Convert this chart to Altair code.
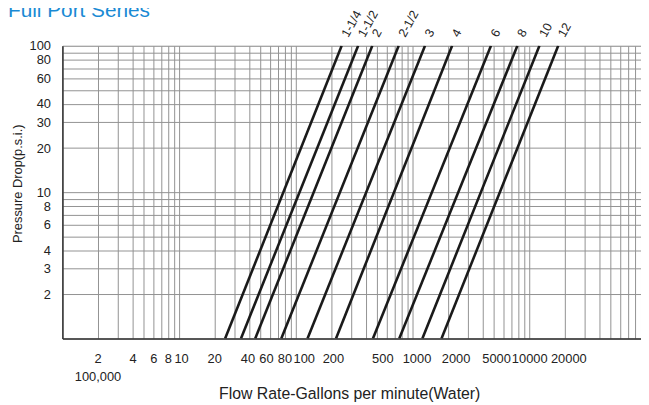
import json
import altair as alt
import pandas as pd

# ---- data ----
pipe_sizes = ["1-1/4", "1-1/2", "2", "2-1/2", "3", "4", "6", "8", "10", "12"]
flow_at_1psi = [24.8, 33.9, 44.9, 75.1, 126, 221, 458, 770, 1215, 1772]
flow_at_100psi = [247, 342, 452, 761, 1279, 2183, 4699, 7913, 12228, 17716]
psi_bottom = 1
psi_top = 100

x_label_values = [2, 4, 6, 8, 10, 20, 40, 60, 80, 100, 200, 500, 1000, 2000, 5000, 10000, 20000]
x_label_texts = ["2", "4", "6", "8", "10", "20", "40", "60", "80", "100", "200", "500",
                 "1000", "2000", "5000", "10000", "20000"]
x_second_line = "100,000"   # printed under the "2"
y_label_values = [2, 3, 4, 6, 8, 10, 20, 30, 40, 60, 80, 100]
y_label_texts = ["2", "3", "4", "6", "8", "10", "20", "30", "40", "60", "80", "100"]

x_domain = [1, 100000]
y_domain = [1, 100]

# log grid (1..9 per decade)
x_grid = [m * 10 ** k for k in range(5) for m in range(1, 10)]
y_grid = [m * 10 ** k for k in range(2) for m in range(1, 10)] + [100]

rows = []
for s, lo, hi in zip(pipe_sizes, flow_at_1psi, flow_at_100psi):
    rows.append({"size": s, "flow": lo, "psi": psi_bottom})
    rows.append({"size": s, "flow": hi, "psi": psi_top})
lines_df = pd.DataFrame(rows)
labels_df = pd.DataFrame({"size": pipe_sizes, "flow": flow_at_100psi,
                          "psi": [psi_top] * len(pipe_sizes)})

# ---- styles ----
FONT = "Liberation Sans"
INK = "#222222"
GRID = "#929292"

# horizontal nudges (px) of some x labels, as printed
x_nudge = {10: 2, 40: -2, 60: -4, 100: 8, 200: 2, 500: 5, 1000: 4, 2000: 8, 5000: 2, 20000: 4}

xv = json.dumps(x_label_values)
xt = json.dumps(x_label_texts)
x_label_expr = (
    f"indexof({xv}, datum.value) < 0 ? '' : "
    f"(datum.value == {x_label_values[0]} ? [{xt}[indexof({xv}, datum.value)], '{x_second_line}'] "
    f": {xt}[indexof({xv}, datum.value)])"
)
yv = json.dumps(y_label_values)
yt = json.dumps(y_label_texts)
y_label_expr = f"indexof({yv}, datum.value) < 0 ? '' : {yt}[indexof({yv}, datum.value)]"

x_offset_cond = {
    "condition": [{"test": f"datum.value == {k}", "value": v} for k, v in x_nudge.items()],
    "value": 0,
}

x_enc = alt.X(
    "flow:Q",
    scale=alt.Scale(type="log", domain=x_domain, nice=False),
    axis=alt.Axis(
        values=x_grid, labelExpr=x_label_expr, labelOverlap=False, labelFlush=False,
        ticks=False, grid=True, gridColor=GRID, gridWidth=1,
        domain=True, domainColor="#333333", domainWidth=1.5,
        labelFont=FONT, labelFontSize=13, labelColor=INK, labelPadding=14,
        labelLineHeight=18, labelOffset=x_offset_cond,
        title="Flow Rate-Gallons per minute(Water)", titleFont=FONT, titleFontSize=16,
        titleFontWeight="normal", titleColor=INK, titleX=290, titleY=56,
        titleBaseline="middle", titleAlign="center",
    ),
)
y_enc = alt.Y(
    "psi:Q",
    scale=alt.Scale(type="log", domain=y_domain, nice=False),
    axis=alt.Axis(
        values=y_grid, labelExpr=y_label_expr, labelOverlap=False, labelFlush=False,
        ticks=False, grid=True, gridColor=GRID, gridWidth=1,
        domain=True, domainColor="#333333", domainWidth=1.5,
        labelFont=FONT, labelFontSize=13, labelColor=INK, labelPadding=12,
        title="Pressure Drop(p.s.i.)", titleFont=FONT, titleFontSize=13,
        titleFontWeight="normal", titleColor=INK, titleX=-45, titleY=139,
        titleBaseline="middle", titleAlign="center", titleAngle=270,
    ),
)

lines = alt.Chart(lines_df).mark_line(color="#1a1a1a", strokeWidth=2.6, clip=True).encode(
    x=x_enc, y=y_enc, detail="size:N"
)

labels = alt.Chart(labels_df).mark_text(
    align="left", baseline="alphabetic", angle=299, dx=10, dy=2,
    font=FONT, fontSize=12.5, color=INK,
).encode(x="flow:Q", y="psi:Q", text="size:N")

chart = (
    alt.layer(lines, labels)
    .properties(
        width=590, height=296,
        padding={"left": 55, "top": 36, "right": -5, "bottom": 64},
        autosize=alt.AutoSizeParams(type="none"),
        title=alt.TitleParams(
            text="Full Port Series", anchor="start", frame="group",
            font=FONT, fontSize=21, fontWeight="normal", color="#1a8ad4",
            baseline="alphabetic", dx=-55, dy=33,
        ),
    )
    .configure_view(stroke="#333333", strokeWidth=1.5)
    .configure(background="white")
)

chart.save("out.html", embed_options={"renderer": "svg", "actions": False})
